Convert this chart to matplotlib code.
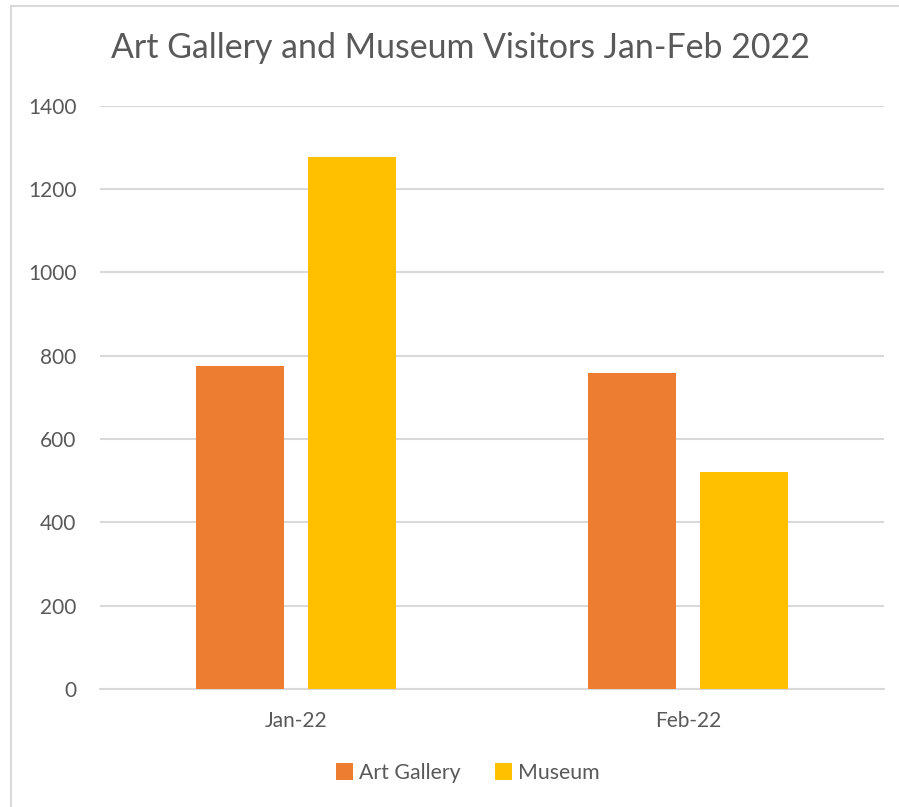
import numpy as np
import matplotlib.pyplot as plt
from matplotlib.patches import Rectangle

# monthly visitor counts
months = ['Jan-22', 'Feb-22']
art_gallery = [776, 758]
museum = [1277, 520]

orange = '#ED7D31'
gold = '#FFC000'
text_col = '#595959'
grid_col = '#D9D9D9'
font = ['Lato', 'DejaVu Sans']

fig = plt.figure(figsize=(8.99, 8.07), dpi=100)
ax = fig.add_axes([100 / 899, 1 - 689 / 807, 784 / 899, (689 - 105.7) / 807])

# chart area border
fig.patches.append(Rectangle((11 / 899, -0.1), 1.2, 1 - 6 / 807 + 0.1,
                             transform=fig.transFigure, fill=False,
                             edgecolor='#D9D9D9', linewidth=1.5))

x = np.arange(len(months))
w = 0.225
off = 0.143
ax.bar(x - off, art_gallery, w, color=orange, label='Art Gallery', zorder=3)
ax.bar(x + off, museum, w, color=gold, label='Museum', zorder=3)

ax.set_xlim(-0.5, 1.5)
ax.set_ylim(0, 1400)
ax.set_yticks(range(0, 1401, 200))
ax.set_xticks(x)
ax.set_xticklabels(months)
ax.grid(axis='y', color=grid_col, linewidth=1.5, zorder=0)
for s in ['top', 'right', 'left']:
    ax.spines[s].set_visible(False)
ax.spines['bottom'].set_color(grid_col)
ax.spines['bottom'].set_linewidth(1.5)
ax.tick_params(length=0, colors=text_col, labelsize=15)
ax.tick_params(axis='y', pad=17)
ax.tick_params(axis='x', pad=16)
for lab in ax.get_xticklabels() + ax.get_yticklabels():
    lab.set_family(font)

fig.text(461 / 899, 1 - 48 / 807, 'Art Gallery and Museum Visitors Jan-Feb 2022',
         ha='center', va='center', fontsize=24.4, color=text_col, family=font)

leg = fig.legend(loc='center', bbox_to_anchor=(468 / 899, 1 - 773 / 807), ncol=2,
                 frameon=False, handlelength=0.8, handleheight=0.8,
                 handletextpad=0.3, columnspacing=1.6,
                 prop={'family': font, 'size': 15.3})
for t in leg.get_texts():
    t.set_color(text_col)

fig.savefig('out.png', dpi=100)
